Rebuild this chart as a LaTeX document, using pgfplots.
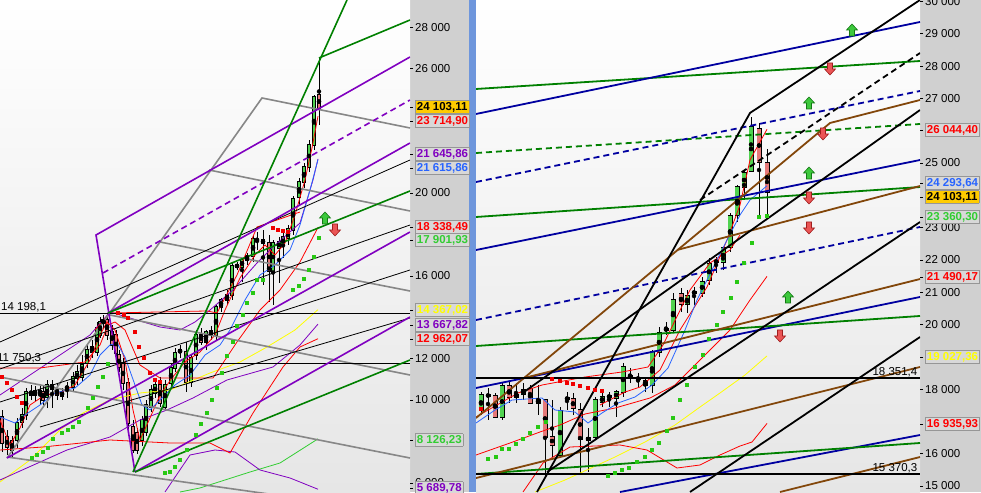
\documentclass[border=0pt]{standalone}
\usepackage{pgfplots}
\usepackage{pgfplotstable}
\pgfplotsset{compat=1.18}
\usepackage{fontspec}
\setmainfont{Liberation Sans}

\definecolor{panel}{RGB}{208,208,208}
\definecolor{boxfill}{RGB}{216,216,216}
\definecolor{boxedge}{RGB}{150,150,150}
\definecolor{sep}{RGB}{110,150,220}
\definecolor{bgbot}{RGB}{230,230,230}
\definecolor{cgreen}{RGB}{80,210,80}
\definecolor{cred}{RGB}{230,120,120}
\definecolor{tgreen}{RGB}{0,128,0}
\definecolor{tpurple}{RGB}{128,0,192}
\definecolor{tnavy}{RGB}{0,0,160}
\definecolor{tbrown}{RGB}{130,70,10}
\definecolor{tgray}{RGB}{135,135,135}
\definecolor{sargreen}{RGB}{40,200,20}
\definecolor{sarred}{RGB}{240,0,0}
\definecolor{mablue}{RGB}{40,100,255}
\definecolor{mayellow}{RGB}{255,255,0}
\definecolor{lgreen}{RGB}{50,205,50}
\definecolor{boxgold}{RGB}{255,204,0}
\definecolor{arrg}{RGB}{60,200,60}
\definecolor{arrgd}{RGB}{20,120,20}
\definecolor{arrr}{RGB}{235,85,85}
\definecolor{arrrd}{RGB}{160,30,30}

\newcommand\lf{\fontsize{11.5}{13}\selectfont}
\setlength{\fboxsep}{1.3pt}
\newcommand\lbox[2]{\fcolorbox{boxedge}{boxfill}{\textcolor{#1}{\bfseries #2}}}
\newcommand\ybox[1]{\fcolorbox{boxedge}{boxgold}{\textcolor{black}{\bfseries #1}}}

\pgfdeclareplotmark{uparr}{%
  \pgfpathmoveto{\pgfpoint{-2.5pt}{-6pt}}\pgfpathlineto{\pgfpoint{2.5pt}{-6pt}}%
  \pgfpathlineto{\pgfpoint{2.5pt}{0pt}}\pgfpathlineto{\pgfpoint{5.5pt}{0pt}}%
  \pgfpathlineto{\pgfpoint{0pt}{6pt}}\pgfpathlineto{\pgfpoint{-5.5pt}{0pt}}%
  \pgfpathlineto{\pgfpoint{-2.5pt}{0pt}}\pgfpathclose\pgfusepathqfillstroke}
\pgfdeclareplotmark{dnarr}{%
  \pgfpathmoveto{\pgfpoint{-2.5pt}{6pt}}\pgfpathlineto{\pgfpoint{2.5pt}{6pt}}%
  \pgfpathlineto{\pgfpoint{2.5pt}{0pt}}\pgfpathlineto{\pgfpoint{5.5pt}{0pt}}%
  \pgfpathlineto{\pgfpoint{0pt}{-6pt}}\pgfpathlineto{\pgfpoint{-5.5pt}{0pt}}%
  \pgfpathlineto{\pgfpoint{-2.5pt}{0pt}}\pgfpathclose\pgfusepathqfillstroke}

\pgfplotsset{
  base/.style={anchor=south west, scale only axis, height=492pt,
    axis background/.style={shade, top color=white, bottom color=bgbot},
    axis line style={draw=none}, xtick=\empty,
    ytick pos=right, yticklabel pos=right, tick align=outside,
    major tick length=3pt, tick style={black, line width=0.6pt},
    yticklabel style={font=\lf, anchor=west, inner sep=2pt},
    extra y tick style={tick style={black}}},
  tl/.style={line width=1.6pt, forget plot},
  tr/.style={line width=1.8pt, forget plot},
  ind/.style={line width=0.8pt, forget plot},
  dsh/.style={dash pattern=on 6pt off 4pt},
  sarg/.style={only marks, mark=square*, mark size=1.4pt, sargreen, forget plot},
  sarr/.style={only marks, mark=square*, mark size=1.4pt, sarred, forget plot},
  upa/.style={only marks, mark=uparr, mark options={fill=arrg, draw=arrgd, line width=0.6pt}, forget plot},
  dna/.style={only marks, mark=dnarr, mark options={fill=arrr, draw=arrrd, line width=0.6pt}, forget plot},
  ebar/.style={only marks, mark=none, forget plot, error bars/y dir=both,
    error bars/y explicit, error bars/error mark=none,
    error bars/error bar style={#1}}
}

% #1 table, #2 outline width, #3 fill width, #4 outline pad (data units)
\newcommand\candles[4]{%
  \addplot[ebar={black, line width=0.8pt}]
    table[x=x, y expr={(\thisrow{h}+\thisrow{l})/2}, y error expr={(\thisrow{h}-\thisrow{l})/2}] {#1};
  \addplot[ebar={black, line width=#2}]
    table[x=x, y expr={(\thisrow{o}+\thisrow{c})/2}, y error expr={abs(\thisrow{c}-\thisrow{o})/2+#4}] {#1};
  \addplot[restrict expr to domain={\thisrow{c}-\thisrow{o}}{0:100000}, ebar={cgreen, line width=#3}]
    table[x=x, y expr={(\thisrow{o}+\thisrow{c})/2}, y error expr={abs(\thisrow{c}-\thisrow{o})/2}] {#1};
  \addplot[restrict expr to domain={\thisrow{o}-\thisrow{c}}{0.5:100000}, ebar={cred, line width=#3}]
    table[x=x, y expr={(\thisrow{o}+\thisrow{c})/2}, y error expr={abs(\thisrow{c}-\thisrow{o})/2}] {#1};
}

\pgfplotstableread{
x o h l c
2 9181 9519 7490 7925
7 8215 8553 7345 7732
12 8022 8263 7249 7587
17 8070 9133 7684 8891
22 8939 9616 8650 9277
26 9277 10582 9036 10388
31 10388 10726 10002 10243
35 10243 10678 9954 10437
40 10437 10775 9760 10340
43 10388 10726 9760 10002
47 10147 10968 9616 10726
52 10726 10968 9616 10533
57 10485 10823 10002 10243
62 10388 10582 10002 10195
67 10582 10871 10099 10630
73 10630 11354 10388 11113
77 11065 11692 10726 11354
82 11113 12175 10871 11692
87 11789 12658 11548 12417
92 12320 12900 12031 12562
97 12320 13769 12127 13480
100 13141 14011 12997 13769
103 13721 14107 13480 13866
107 13866 14204 12900 13141
112 13286 13624 12417 12658
116 13141 13383 12031 12272
119 12175 12417 11354 11596
123 11789 12031 10485 10823
128 10823 11065 8553 8891
133 8698 9036 7442 7587
137 8408 8650 7394 7587
142 8070 9229 7780 9036
146 8456 10002 8263 9760
151 9664 10726 9422 10485
155 10340 10968 10099 10726
160 10726 11113 9664 9857
165 9664 10968 9519 10726
171 10823 11789 10485 11548
175 11548 12514 11354 12272
180 12320 12658 12031 12417
186 12320 12803 10388 10871
191 10871 12175 10630 12030
196 12175 13383 11934 13141
201 13141 13480 12658 12803
206 12803 13383 12417 13286
211 13335 13576 12900 13141
216 13141 14590 12900 14494
221 14494 14929 14252 14832
227 14832 15315 14590 15073
232 15073 16667 14832 16474
237 16522 16667 16281 16426
242 16426 16861 15701 16764
247 16764 17102 16522 16957
253 16957 17971 16667 17778
257 17730 18116 17247 17740
263 17730 18213 15556 17585
269 17585 17971 14735 16233
273 16233 17730 14590 17585
279 17344 17875 15653 17633
283 17488 18068 16861 17875
288 17827 18454 17488 18261
293 18213 19855 17971 19710
299 19807 20725 19420 20531
304 20531 21449 20242 21256
309 21256 22560 21014 22318
314 22318 24733 22077 24637
319 24733 26521 23284 24103
}\candlesL

\pgfplotstableread{
x o h l c
481 17352 17910 17198 17817
488 17817 18034 17043 17786
495 17786 17879 17105 17136
502 17136 18188 17043 18095
509 18095 18219 17569 17755
516 17755 18188 17569 17817
523 17848 18188 17662 17972
530 18003 18126 17569 17569
538 17662 18126 17198 17569
545 17662 17700 15278 16516
552 16516 17662 15897 16269
560 15959 17445 15897 17321
567 17693 17910 17352 17724
573 17693 17879 17198 17414
580 17352 17569 15402 16455
588 16424 16795 15433 16486
595 16516 17755 16424 17662
602 17600 17910 17445 17755
609 17755 17910 17445 17786
616 17724 17972 17136 17910
623 17910 18808 17755 18684
630 18374 18653 18188 18405
638 18343 18498 18034 18312
645 18250 18374 17910 18126
652 18126 19210 17879 19148
659 19148 19922 18993 19736
666 19829 20077 19674 19860
673 19829 20975 19736 20758
681 20944 21130 20386 20634
687 20634 21068 20356 20882
694 20975 21160 20603 21006
702 20975 21470 20851 21315
709 21377 22058 21222 21873
716 21934 22089 21594 21965
723 21934 22399 21687 22368
730 22399 23452 22244 23359
737 23390 24318 23173 24256
744 24256 24783 23854 24690
751 24752 26424 24721 26114
759 26052 26238 23328 25030
767 25000 25433 23390 24103
}\candlesR

\begin{document}
\begin{tikzpicture}[x=1pt,y=1pt]
\fill[panel] (0,0) rectangle (981,492);
\fill[sep] (469,0) rectangle (476,492);

% ---------------- left panel ----------------
\begin{axis}[base, at={(0,0)}, width=410pt,
  xmin=0, xmax=410, ymin=5558, ymax=29322,
  ytick={6000,10000,12000,16000,20000,26000,28000},
  yticklabels={6 000,10 000,12 000,16 000,20 000,26 000,28 000},
  extra y ticks={24154,23478,21884,21208,18358,17730,14349,13624,12948,8070,5751},
  extra y tick labels={{\ybox{24 103,11}},{\lbox{red}{23 714,90}},{\lbox{tpurple}{21 645,86}},
    {\lbox{mablue}{21 615,86}},{\lbox{red}{18 338,49}},{\lbox{lgreen}{17 901,93}},
    {\lbox{mayellow}{14 367,02}},{\lbox{tpurple}{13 667,82}},{\lbox{red}{12 962,07}},
    {\lbox{lgreen}{8 126,23}},{\lbox{tpurple}{5 689,78}}}]

\candles{\candlesL}{4.4pt}{2.8pt}{38}

% indicators
\addplot[ind, mayellow] coordinates {(0,6041) (30,7104) (60,8553) (83,9374) (110,10002) (140,10340) (170,10485) (210,11306) (240,11837) (267,12562) (295,13383) (318,14367)};
\addplot[ind, lgreen] coordinates {(180,5558) (200,5752) (250,6524) (280,6959) (318,8126)};
\addplot[ind, tpurple] coordinates {(0,10243) (30,11209) (60,12175) (90,13141) (110,14252) (160,13528) (180,13383) (195,13769) (210,14349) (233,15315) (257,16619) (273,17392) (300,18551) (313,20628) (318,21646)};
\addplot[ind, tpurple] coordinates {(0,6138) (67,7587) (110,8215) (140,9036) (167,9519) (193,10099) (227,10968) (273,11596) (300,12658) (318,13668)};
\addplot[ind, tpurple] coordinates {(165,5558) (190,7345) (215,7587) (235,7490) (260,6621) (290,6235) (318,5690)};
\addplot[ind, red] coordinates {(0,11548) (40,11548) (85,11837) (100,12658) (108,13624) (115,13769) (125,13383) (140,11692) (160,11065) (213,11065) (237,12803) (260,14349) (280,15315) (300,16667) (318,18338)};
\addplot[ind, red] coordinates {(0,7587) (43,7732) (110,8070) (170,7925) (210,7925) (230,7442) (253,9374) (283,11596) (300,12562) (318,12962)};
\addplot[ind, red] coordinates {(95,13383) (110,14204) (207,14301) (217,14204) (237,16040) (257,18358) (300,19082)};
\addplot[ind, red] coordinates {(0,9036) (10,7829) (20,8650) (30,9760) (45,10243) (60,10340) (75,10726) (90,11934) (100,13141) (107,13769) (115,13383) (125,11934) (133,9519) (140,8070) (150,9133) (160,10243) (172,11065) (185,11837) (200,12320) (215,13141) (225,14349) (240,15895) (255,17006) (265,17489) (275,17006) (285,17585) (295,18938) (305,20628) (312,22174) (318,23715)};
\addplot[ind, mablue] coordinates {(0,9181) (15,8891) (25,9277) (40,9760) (55,10340) (75,10582) (90,11209) (100,12175) (110,12658) (117,12755) (125,12079) (135,10726) (142,9760) (150,9519) (160,10002) (175,10726) (190,11209) (205,12175) (220,12658) (230,13383) (245,14832) (260,16040) (275,16522) (290,17247) (300,18454) (310,20145) (318,21616)};

% trend lines
\addplot[tl, tgray] coordinates {(7,7200) (262,24589) (410,23140)};
\addplot[tl, tgray] coordinates {(160,17633) (410,15267)};
\addplot[tl, tgray] coordinates {(209,21111) (410,19131)};
\addplot[tl, tgray] coordinates {(110,14107) (410,11209)};
\addplot[tl, tgray] coordinates {(0,11113) (410,7200)};
\addplot[tl, tgray] coordinates {(7,7249) (410,4496)};
\addplot[ind, black] coordinates {(0,12803) (410,21594)};
\addplot[ind, black] coordinates {(0,11499) (410,18454)};
\addplot[ind, black] coordinates {(0,9905) (410,16281)};
\addplot[ind, black] coordinates {(40,8698) (410,13963)};
\addplot[line width=1pt, black, forget plot] coordinates {(0,14198.1) (410,14198.1)};
\addplot[line width=1pt, black, forget plot] coordinates {(0,11750.3) (410,11750.3)};
\addplot[tl, tpurple] coordinates {(135,6524) (96,17971) (410,26569)};
\addplot[tl, tpurple, dsh] coordinates {(103,16136) (410,24492)};
\addplot[tl, tpurple] coordinates {(108,14204) (410,22415)};
\addplot[tl, tpurple] coordinates {(7,7200) (410,18116)};
\addplot[tl, tpurple] coordinates {(135,6524) (410,14011)};
\addplot[tl, tgreen] coordinates {(133,6524) (347,29322)};
\addplot[tl, tgreen] coordinates {(319,26521) (410,28356)};
\addplot[tl, tgreen] coordinates {(135,6524) (410,11934)};
\addplot[tl, tgreen] coordinates {(108,14204) (410,20097)};

% parabolic SAR
\addplot[sarr] coordinates {(2,11113) (7,10823) (12,10485) (17,10147) (22,9857)};
\addplot[sarg] coordinates {(32,7200) (37,7345) (43,7490) (48,7684) (53,8117) (62,8408) (68,8553) (73,8698) (79,8939) (88,9616) (93,10099) (98,10630) (103,11113) (108,11741)};
\addplot[sarr] coordinates {(118,14204) (124,14107) (128,13963) (135,13286) (139,12562) (144,12031) (150,11306) (155,10968) (160,10871)};
\addplot[sarg] coordinates {(165,6476) (170,6524) (175,6766) (180,7104) (187,7587) (196,8311) (201,8843) (207,9374) (212,10002) (217,10582) (222,11306) (227,12127) (233,12803) (237,13576) (243,14107) (247,14687) (253,15170) (257,15798) (263,15798)};
\addplot[sarr] coordinates {(273,18310) (278,18213) (283,18165) (288,18116)};
\addplot[sarg] coordinates {(293,15315) (299,15508) (304,15846) (309,16281) (314,16909) (319,17827)};
\addplot[upa] coordinates {(325,18793)};
\addplot[dna] coordinates {(335,18213)};

\node[anchor=south west, inner sep=1pt, font=\lf] at (axis cs:0,14198.1) {14 198,1};
\node[anchor=south west, inner sep=1pt, font=\lf] at (axis cs:-4,11750.3) {11 750,3};
\end{axis}

% ---------------- right panel ----------------
\begin{axis}[base, at={(476,0)}, width=444pt,
  xmin=476, xmax=920, ymin=14814, ymax=30046,
  ytick={15000,16000,18000,20000,21000,22000,23000,25000,27000,28000,29000,30000},
  yticklabels={15 000,16 000,18 000,20 000,21 000,22 000,23 000,25 000,27 000,28 000,29 000,30 000},
  extra y ticks={26022,24381,23947,23328,21471,18994,16919},
  extra y tick labels={{\lbox{red}{26 044,40}},{\lbox{mablue}{24 293,64}},{\ybox{24 103,11}},
    {\lbox{lgreen}{23 360,30}},{\lbox{red}{21 490,17}},{\lbox{mayellow}{19 027,36}},{\lbox{red}{16 935,93}}}]

\candles{\candlesR}{5pt}{3.4pt}{25}

% indicators
\addplot[ind, mayellow] coordinates {(535,14814) (565,15185) (615,15897) (645,16362) (675,16888) (700,17445) (720,17879) (745,18436) (767,19027)};
\addplot[ind, red] coordinates {(476,17136) (518,17879) (542,18126) (585,18374) (622,18529) (648,18684) (663,19365) (690,21068) (710,21904) (730,22306) (740,22771)};
\addplot[ind, red] coordinates {(600,17508) (625,17910) (640,18064) (660,18591) (680,19829) (707,21160) (727,22616) (740,23699) (750,25093) (767,26044)};
\addplot[ind, red] coordinates {(476,15959) (510,16331) (540,16672) (560,16889) (585,17229) (615,17414) (650,17724) (675,18126) (700,18901) (730,19829) (750,20758) (767,21490)};
\addplot[ind, red] coordinates {(523,14814) (543,15711) (570,16207) (620,16269) (647,16114) (677,15557) (700,15650) (720,15959) (740,16238) (752,16362) (767,16936)};
\addplot[ind, mablue] coordinates {(476,16950) (495,17352) (512,17662) (542,17724) (555,17352) (575,17290) (588,16950) (602,17260) (618,17569) (635,17755) (652,18126) (668,18653) (685,19829) (697,20758) (712,21687) (727,22616) (740,23390) (750,23854) (767,24294)};

% trend lines
\addplot[tr, tgreen] coordinates {(476,27291) (920,28157)};
\addplot[tr, tnavy] coordinates {(476,26517) (920,29365)};
\addplot[tr, tgreen, dsh] coordinates {(476,25309) (920,26207)};
\addplot[tr, tnavy, dsh] coordinates {(476,24411) (920,27229)};
\addplot[tr, tgreen] coordinates {(476,23328) (920,24256)};
\addplot[tr, tnavy] coordinates {(476,22306) (920,25092)};
\addplot[tr, tnavy, dsh] coordinates {(476,20139) (920,23018)};
\addplot[tr, tnavy] coordinates {(476,18034) (920,20851)};
\addplot[tr, tgreen] coordinates {(476,19334) (920,20263)};
\addplot[tr, tnavy] coordinates {(620,14814) (920,16578)};
\addplot[tr, tgreen] coordinates {(476,15371) (920,16331)};
\addplot[tr, tbrown] coordinates {(476,17105) (830,26238) (920,26950)};
\addplot[tr, tbrown] coordinates {(677,22306) (920,24287)};
\addplot[tr, tbrown] coordinates {(524,18343) (920,21408)};
\addplot[tr, tbrown] coordinates {(476,15247) (920,18684)};
\addplot[tr, tbrown] coordinates {(780,14814) (920,15897)};
\addplot[tr, black] coordinates {(537,14814) (750,26548) (920,30046)};
\addplot[tr, black, dsh] coordinates {(700,23854) (920,28405)};
\addplot[tr, black] coordinates {(524,17910) (920,26640)};
\addplot[tr, black] coordinates {(547,15433) (920,23173)};
\addplot[tr, black] coordinates {(690,14814) (920,19613)};
\addplot[line width=2pt, black, forget plot] coordinates {(476,18351.4) (920,18351.4)};
\addplot[line width=2pt, black, forget plot] coordinates {(476,15370.3) (920,15370.3)};

% parabolic SAR
\addplot[sarr] coordinates {(481,17383)};
\addplot[sarg] coordinates {(488,15836) (496,15897) (502,16145) (509,16145) (516,16300) (523,16455) (530,16640) (538,16826) (546,16981)};
\addplot[sarr] coordinates {(552,18312) (560,18250) (567,18188) (573,18157) (580,18095) (588,18034) (595,17972) (602,17941)};
\addplot[sarg] coordinates {(608,15309) (615,15402) (622,15495) (629,15557) (637,15742) (645,15897) (652,16114) (659,16331) (667,16702) (673,17105) (680,17662) (687,18126) (695,18684) (703,19055) (709,19550) (717,19984) (723,20386) (731,20820) (737,21315) (744,21904) (752,22523) (759,23328) (767,23360)};

\addplot[upa] coordinates {(852,29118) (809,26858) (809,24690) (788,20851)};
\addplot[dna] coordinates {(830,27910) (823,25898) (809,23916) (809,22988) (780,19644)};

\node[anchor=south east, inner sep=0.5pt, font=\lf] at (axis cs:918,18351.4) {18 351,4};
\node[anchor=south east, inner sep=0.5pt, font=\lf] at (axis cs:918,15370.3) {15 370,3};
\end{axis}

\pgfresetboundingbox
\path[use as bounding box] (0,0) rectangle (981,492);
\end{tikzpicture}
\end{document}
